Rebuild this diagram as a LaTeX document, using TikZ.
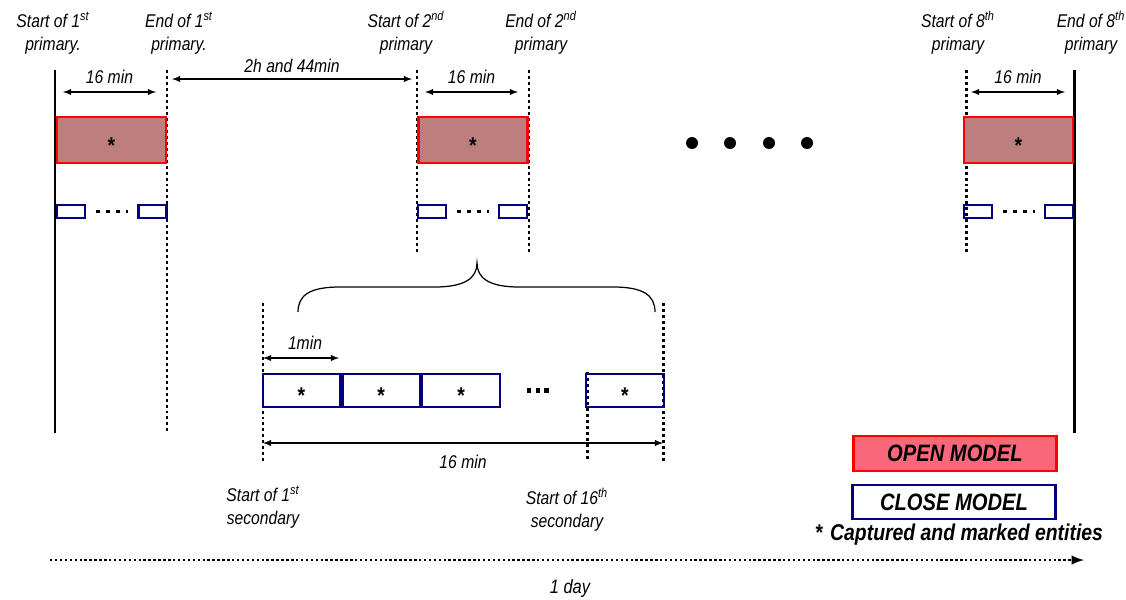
\documentclass[tikz,border=0pt]{standalone}
\usepackage{fontspec}
\setmainfont{Liberation Sans}[FakeStretch=0.85]
\usetikzlibrary{positioning,arrows}

\definecolor{openfill}{RGB}{189,126,126}
\definecolor{legendfill}{RGB}{248,104,122}
\definecolor{closeblue}{RGB}{0,0,128}

\tikzset{
  bound/.style={line width=1.7pt},
  tick/.style={line width=1.7pt, dash pattern=on 1.7pt off 1.7pt},
  span/.style={<->, >=latex, line width=0.6pt},
  lbl/.style={font=\itshape\fontsize{10.5}{13}\selectfont, align=center},
  minlbl/.style={font=\itshape\fontsize{10.5}{12}\selectfont},
  openbox/.style={draw=red, line width=1.4pt, fill=openfill, minimum width=2.18cm,
    minimum height=0.92cm, inner sep=0pt, font=\bfseries\fontsize{13}{13}\selectfont,
    text height=15pt, text depth=0pt},
  tinybox/.style={draw=closeblue, line width=1.5pt, minimum width=0.56cm,
    minimum height=0.26cm, inner sep=0pt},
  slotbox/.style={draw=closeblue, line width=1.3pt, minimum width=1.55cm,
    minimum height=0.66cm, inner sep=0pt, font=\bfseries\fontsize{13}{13}\selectfont,
    text height=15pt, text depth=0pt},
  gapdots/.style={line width=2pt, dash pattern=on 2pt off 3.6pt},
  legbox/.style={line width=1.4pt, minimum width=4.06cm, minimum height=0.69cm,
    inner sep=0pt, font=\bfseries\itshape\fontsize{13.5}{14}\selectfont},
}

\begin{document}
\begin{tikzpicture}[x=0.02cm, y=-0.02cm]
\useasboundingbox (0,0) rectangle (1126,599);

% primary runs: borders
\draw[bound] (55,70) -- (55,433);
\draw[tick] (167,70) -- (167,433);
\draw[tick] (417,70) -- (417,252);
\draw[tick] (529,70) -- (529,252);
\draw[tick] (966,70) -- (966,252);
\draw[bound] (1074,70) -- (1074,433);

% labels on top
\node[lbl] (st1) at (53,33) {Start of 1\textsuperscript{st}\\primary.};
\node[lbl] (en1) at (179,33) {End of 1\textsuperscript{st}\\primary.};
\node[lbl] (st2) at (406,33) {Start of 2\textsuperscript{nd}\\primary};
\node[lbl] (en2) at (541,33) {End of 2\textsuperscript{nd}\\primary};
\node[lbl] (st8) at (958,33) {Start of 8\textsuperscript{th}\\primary};
\node[lbl] (en8) at (1091,33) {End of 8\textsuperscript{th}\\primary};

% open model runs
\node[openbox] (p1) at (111.5,140) {*};
\node[openbox] (p2) at (473,140) {*};
\node[openbox] (p8) at (1018.5,140) {*};

% close model runs
\node[tinybox] (c1a) at (71,211.5) {};
\node[tinybox] (c1b) at (152.5,211.5) {};
\node[tinybox] (c2a) at (432,211.5) {};
\node[tinybox] (c2b) at (513,211.5) {};
\node[tinybox] (c8a) at (978,211.5) {};
\node[tinybox] (c8b) at (1059,211.5) {};
\draw[gapdots, shorten <=0.2cm, shorten >=0.18cm] (c1a.east) -- (c1b.west);
\draw[gapdots, shorten <=0.2cm, shorten >=0.18cm] (c2a.east) -- (c2b.west);
\draw[gapdots, shorten <=0.2cm, shorten >=0.18cm] (c8a.east) -- (c8b.west);

% durations
\coordinate (d1a) at (63,92);  \coordinate (d1b) at (156,92);
\coordinate (d2a) at (425,92); \coordinate (d2b) at (518,92);
\coordinate (d8a) at (971,92); \coordinate (d8b) at (1065,92);
\coordinate (gapa) at (172,79); \coordinate (gapb) at (412,79);
\draw[span] (d1a) -- node[above=1pt, minlbl] {16 min} (d1b);
\draw[span] (d2a) -- node[above=1pt, minlbl] {16 min} (d2b);
\draw[span] (d8a) -- node[above=1pt, minlbl] {16 min} (d8b);
\draw[span] (gapa) -- node[above=0pt, minlbl] {2h and 44min} (gapb);

% the runs in between
\foreach \x in {692,730,769,807}
  \fill (\x,143) circle[radius=0.12cm];

% zoom on one primary run
\draw[line width=0.7pt] (298,312) .. controls (298,295) and (310,287) .. (340,287)
  -- (435,287) .. controls (465,287) and (477,278) .. (477,263)
  .. controls (477,278) and (489,287) .. (519,287)
  -- (613,287) .. controls (643,287) and (655,295) .. (655,312);

\draw[tick] (263,303) -- (263,461);
\draw[tick] (663,303) -- (663,461);
\draw[tick] (587,372) -- (587,461);

\node[slotbox] (s1) at (301.5,390.5) {*};
\node[slotbox, right=0pt of s1] (s2) {*};
\node[slotbox, right=0pt of s2] (s3) {*};
\node[slotbox] (s16) at (625,390.5) {*};
\draw[line width=2.4pt, dash pattern=on 2.4pt off 2.6pt, shorten <=0.52cm, shorten >=0.72cm]
  (s3.east) -- (s16.west);

\coordinate (m1a) at (263,358); \coordinate (m1b) at (339,358);
\coordinate (m16a) at (263,443); \coordinate (m16b) at (663,443);
\draw[span] (m1a) -- (m1b);
\node[minlbl] (onemin) at (305,343) {1min};
\draw[span] (m16a) -- node[below=3pt, minlbl] {16 min} (m16b);

\node[lbl] (sec1) at (263,507) {Start of 1\textsuperscript{st}\\secondary};
\node[lbl] (sec16) at (567,510) {Start of 16\textsuperscript{th}\\secondary};

% legend
\node[legbox, draw=red, fill=legendfill] (open) at (955,453.5) {OPEN MODEL};
\node[legbox, draw=closeblue, fill=white] (close) at (954,502) {CLOSE MODEL};
\node[font=\bfseries\itshape\fontsize{13}{14}\selectfont] (mark) at (959,535)
  {*\,\,Captured and marked entities};

% whole day
\coordinate (dayl) at (50,560);
\coordinate (dayr) at (1084,560);
\draw[->, >=latex, line width=1.4pt, dash pattern=on 1.4pt off 1.4pt] (dayl) -- (dayr);
\node[minlbl, font=\itshape\fontsize{11}{12}\selectfont] (day) at (570,588) {1 day};
\end{tikzpicture}
\end{document}
